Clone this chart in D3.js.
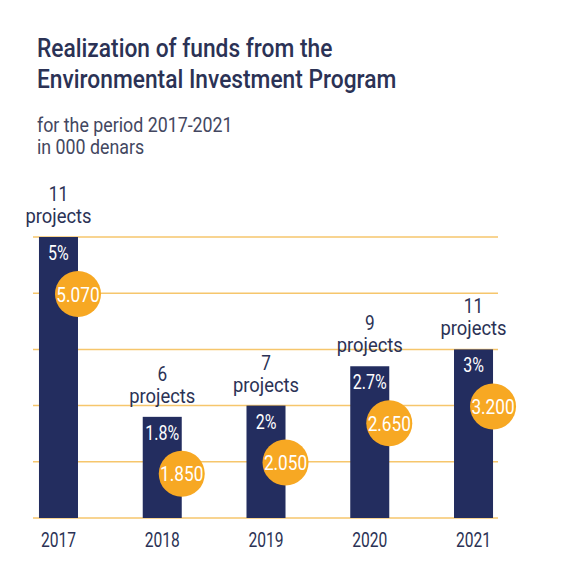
<!DOCTYPE html>
<html>
<head>
<meta charset="utf-8">
<script src="https://cdn.jsdelivr.net/npm/d3@7"></script>
<style>
  html, body { margin: 0; padding: 0; background: #ffffff; }
  svg { display: block; }
  text { font-family: "Roboto", "Noto Sans", sans-serif; }
</style>
</head>
<body>
<svg id="chart" width="563" height="573"></svg>
<script>
const years = ["2017", "2018", "2019", "2020", "2021"];
const percents = [5, 1.8, 2, 2.7, 3];
const percentLabels = ["5%", "1.8%", "2%", "2.7%", "3%"];
const amounts = [5070, 1850, 2050, 2650, 3200];
const amountLabels = ["5.070", "1.850", "2.050", "2.650", "3.200"];
const projects = [11, 6, 7, 9, 11];
const gridTicks = [0, 1, 2, 3, 4, 5];
const titleLines = ["Realization of funds from the", "Environmental Investment Program"];
const subtitleLines = ["for the period 2017-2021", "in 000 denars"];

const data = years.map((y, i) => ({
  year: y, pct: percents[i], pctLabel: percentLabels[i],
  amount: amounts[i], amountLabel: amountLabels[i], projects: projects[i]
}));

const svg = d3.select("#chart");
const navy = "#232d5f";
const orange = "#f7a823";
const gridColor = "#f6c66c";
const textColor = "#2b3255";

// condense text horizontally (reference uses a semi-condensed face)
function condense(sel, k) {
  sel.each(function () {
    const w = this.getComputedTextLength();
    d3.select(this).attr("textLength", w * k).attr("lengthAdjust", "spacingAndGlyphs");
  });
}

const x = d3.scaleBand().domain(years).range([6.6, 525.4]).paddingInner(0.624).paddingOuter(0.312);
const y = d3.scaleLinear().domain([0, 5]).range([518, 237]);

// Title
svg.append("g").selectAll("text").data(titleLines).join("text")
  .attr("x", 37).attr("y", (d, i) => 57 + i * 31)
  .attr("font-size", 25).attr("fill", textColor).attr("font-weight", 500)
  .text(d => d)
  .call(condense, 0.91);

svg.append("g").selectAll("text").data(subtitleLines).join("text")
  .attr("x", 37).attr("y", (d, i) => 132 + i * 22)
  .attr("font-size", 20).attr("fill", "#434760")
  .text(d => d)
  .call(condense, 0.89);

// Gridlines
svg.append("g").selectAll("line").data(gridTicks).join("line")
  .attr("x1", 33).attr("x2", 498)
  .attr("y1", d => y(d)).attr("y2", d => y(d))
  .attr("stroke", gridColor).attr("stroke-width", 1.5);

// Bars
svg.append("g").selectAll("rect").data(data).join("rect")
  .attr("x", d => x(d.year)).attr("width", x.bandwidth())
  .attr("y", d => y(d.pct)).attr("height", d => y(0) - y(d.pct))
  .attr("fill", navy);

// Percent labels
svg.append("g").selectAll("text").data(data).join("text")
  .attr("x", d => x(d.year) + x.bandwidth() / 2)
  .attr("y", d => y(d.pct) + 23)
  .attr("text-anchor", "middle").attr("font-size", 20).attr("fill", "#ffffff")
  .text(d => d.pctLabel)
  .call(condense, 0.8);

// Circles with amounts
const circ = svg.append("g").selectAll("g").data(data).join("g")
  .attr("transform", d => `translate(${x(d.year) + x.bandwidth()},${y(d.pct) + 57})`);
circ.append("circle").attr("r", 23).attr("fill", orange);
circ.append("text").attr("text-anchor", "middle").attr("dy", "0.36em")
  .attr("font-size", 21).attr("fill", "#ffffff").text(d => d.amountLabel)
  .call(condense, 0.82);

// Projects labels
const proj = svg.append("g").selectAll("g").data(data).join("g")
  .attr("transform", d => `translate(${x(d.year) + x.bandwidth() / 2},${y(d.pct) - 14})`);
proj.append("text").attr("text-anchor", "middle").attr("y", -22)
  .attr("font-size", 20).attr("fill", textColor).text(d => d.projects)
  .call(condense, 0.86);
proj.append("text").attr("text-anchor", "middle").attr("y", 0)
  .attr("font-size", 20).attr("fill", textColor).text("projects")
  .call(condense, 0.92);

// Year axis
const xAxis = d3.axisBottom(x).tickSize(0).tickPadding(0);
const ax = svg.append("g").attr("transform", `translate(0,${y(0)})`).call(xAxis);
ax.select(".domain").remove();
ax.selectAll("text").attr("y", 29).attr("dy", 0)
  .attr("font-size", 20).attr("fill", textColor)
  .style("font-family", "Roboto, 'Noto Sans', sans-serif")
  .call(condense, 0.78);
</script>
</body>
</html>
